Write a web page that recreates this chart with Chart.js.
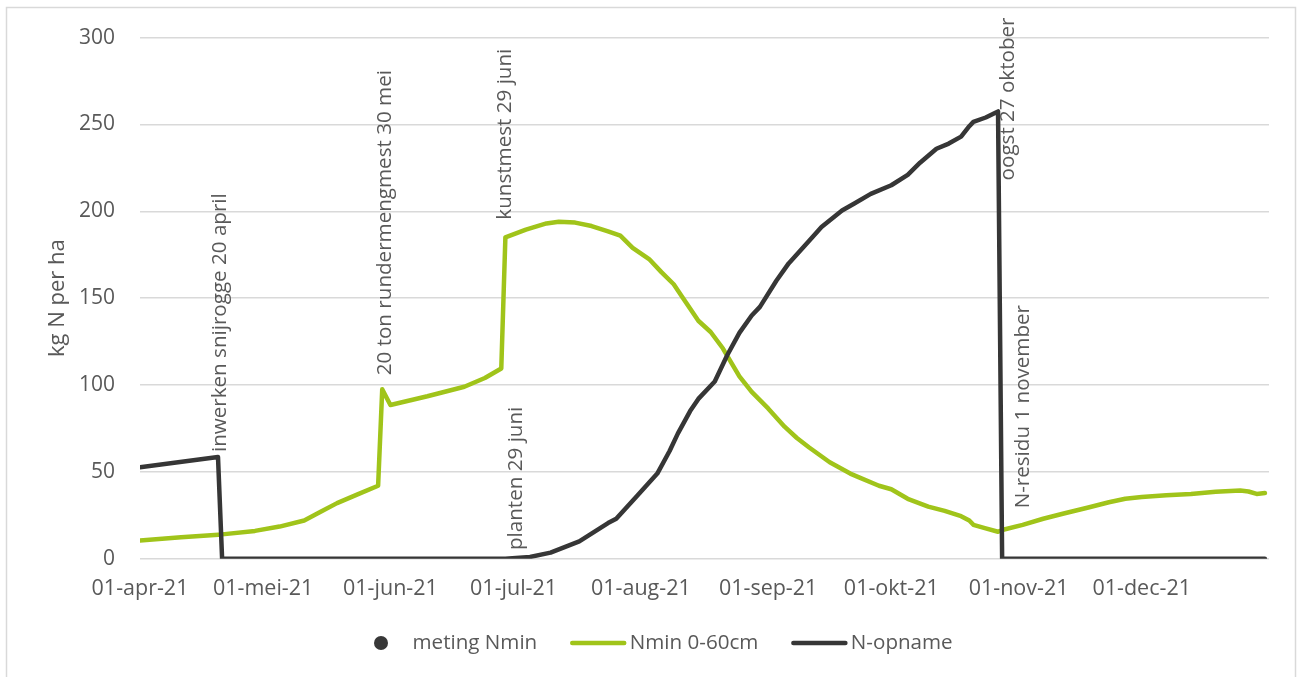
<!DOCTYPE html>
<html>
<head>
<meta charset="utf-8">
<title>Stikstofverloop 2021</title>
<script src="https://cdn.jsdelivr.net/npm/chart.js@4.4.1/dist/chart.umd.min.js"></script>
<style>
  html, body { margin: 0; padding: 0; background: #ffffff; }
  #wrap { width: 1298px; height: 677px; position: relative; }
</style>
</head>
<body>
<div id="wrap"><canvas id="chart" width="1298" height="677"></canvas></div>
<script>
// Days are counted from 1 April 2021 (day 0).
const monthTickDays   = [0, 30, 61, 91, 122, 153, 183, 214, 244];
const monthTickLabels = ['01-apr-21', '01-mei-21', '01-jun-21', '01-jul-21', '01-aug-21',
                         '01-sep-21', '01-okt-21', '01-nov-21', '01-dec-21'];

// Minerale stikstof in de laag 0-60 cm (kg N/ha)
const nminDays   = [0, 10, 20, 28, 34, 40, 44, 48, 53, 58, 59, 61, 70, 79, 84, 88,
                    89, 94, 99, 102, 106, 110, 114, 117, 120, 124, 127, 130, 132, 136, 139, 142,
                    146, 149, 153, 157, 160, 163, 168, 173, 175, 180, 183, 187, 192, 196, 200, 202,
                    203, 206, 209, 210, 215, 220, 225, 231, 236, 240, 244, 250, 256, 262, 268, 270,
                    272, 274];
const nminValues = [10.5, 12.3, 14, 16, 18.5, 22, 27, 32, 37, 42, 97.5, 88.5, 93.5, 99, 104, 109.5,
                    185, 189.5, 193, 194, 193.5, 191.5, 188.5, 186, 179, 172.5, 165, 158, 151, 137, 130.5, 121,
                    105, 96, 86.5, 76, 69.5, 64, 55.5, 49, 47, 42, 40, 34.5, 30, 27.5, 24.5, 22,
                    19.5, 17.5, 15.5, 16.5, 19.5, 23, 26, 29.5, 32.5, 34.5, 35.5, 36.5, 37.2, 38.5, 39.2, 38.7,
                    37.3, 37.8];

// Stikstofopname door het gewas (kg N/ha)
const uptakeDays   = [0, 19, 20, 89, 95, 100, 107, 114, 116, 121, 126, 129, 131, 134, 136, 140,
                      143, 146, 149, 151, 155, 158, 163, 166, 171, 174, 178, 183, 187, 190, 194, 197,
                      200, 202, 203, 206, 209, 210, 274];
const uptakeValues = [52.6, 58.5, 0, 0, 1, 3.5, 10, 20.5, 23, 36, 49, 62, 72, 85, 92, 102,
                      117, 130, 140, 145, 160, 170, 183, 191, 200.5, 204.5, 210, 215, 221, 228, 236, 239,
                      243, 249, 251.5, 254, 257.5, 0, 0];

// Bemonsteringen Nmin (geen metingen in deze periode)
const measuredDays   = [];
const measuredValues = [];

// Teeltmaatregelen langs de tijdas
const eventTexts  = ['inwerken snijrogge 20 april', '20 ton rundermengmest 30 mei', 'kunstmest 29 juni',
                     'planten 29 juni', 'oogst 27 oktober', 'N-residu 1 november'];
const eventDays   = [19.5, 59.6, 88.9, 91.5, 211.5, 215];
const eventLevels = [61.4, 105.6, 195.2, 5, 217.8, 29];

const GREEN = '#a0c41a';
const DARK = '#363636';
const TEXT = '#595959';
const GRID = '#d9d9d9';

const toPoints = (xs, ys) => xs.map((x, i) => ({ x: x, y: ys[i] }));

// outer frame around the chart
const framePlugin = {
  id: 'frame',
  beforeDraw(chart) {
    const c = chart.ctx;
    c.save();
    c.fillStyle = '#ffffff';
    c.fillRect(0, 0, chart.width, chart.height);
    c.strokeStyle = GRID;
    c.lineWidth = 1.5;
    c.strokeRect(6.5, 7.5, 1289, 690);
    c.restore();
  }
};

// vertical event texts anchored at a day and a level on the value axis
const eventPlugin = {
  id: 'events',
  afterDatasetsDraw(chart) {
    const c = chart.ctx;
    const xs = chart.scales.x, ys = chart.scales.y;
    c.save();
    c.fillStyle = TEXT;
    c.font = '20.6px "Open Sans"';
    c.textAlign = 'left';
    c.textBaseline = 'middle';
    eventTexts.forEach((t, i) => {
      c.save();
      c.translate(xs.getPixelForValue(eventDays[i]), ys.getPixelForValue(eventLevels[i]));
      c.rotate(-Math.PI / 2);
      c.fillText(t, 0, 0);
      c.restore();
    });
    c.restore();
  }
};

// legend row below the axis
const legendPlugin = {
  id: 'legendRow',
  afterDraw(chart) {
    const c = chart.ctx;
    const y = 643;
    const box = 56, gap = 3.5, spacing = 33;
    let x = 353;
    c.save();
    c.font = '20.6px "Open Sans"';
    c.textBaseline = 'middle';
    c.textAlign = 'left';
    chart.data.datasets.forEach(ds => {
      if (ds.type === 'scatter') {
        c.fillStyle = ds.backgroundColor;
        c.beginPath();
        c.arc(x + box / 2, y, 7, 0, Math.PI * 2);
        c.fill();
      } else {
        c.strokeStyle = ds.borderColor;
        c.lineWidth = ds.borderWidth;
        c.lineCap = 'round';
        c.beginPath();
        c.moveTo(x + 2, y);
        c.lineTo(x + box - 2, y);
        c.stroke();
      }
      const tx = x + box + gap;
      c.fillStyle = TEXT;
      c.fillText(ds.label, tx, y);
      x = tx + c.measureText(ds.label).width + spacing;
    });
    c.restore();
  }
};

const PAD_LEFT = 41;

new Chart(document.getElementById('chart'), {
  type: 'line',
  data: {
    datasets: [
      {
        label: 'meting Nmin',
        type: 'scatter',
        data: toPoints(measuredDays, measuredValues),
        backgroundColor: '#383838',
        borderColor: '#383838',
        pointRadius: 7,
        order: 0
      },
      {
        label: 'Nmin 0-60cm',
        data: toPoints(nminDays, nminValues),
        borderColor: GREEN,
        backgroundColor: GREEN,
        borderWidth: 4.5,
        pointRadius: 0,
        fill: false,
        tension: 0,
        borderJoinStyle: 'round',
        borderCapStyle: 'round',
        order: 2
      },
      {
        label: 'N-opname',
        data: toPoints(uptakeDays, uptakeValues),
        borderColor: DARK,
        backgroundColor: DARK,
        borderWidth: 4.5,
        pointRadius: 0,
        fill: false,
        tension: 0,
        borderJoinStyle: 'round',
        borderCapStyle: 'round',
        order: 1
      }
    ]
  },
  options: {
    responsive: false,
    animation: false,
    events: [],
    layout: { padding: { left: PAD_LEFT, right: 29, top: 37, bottom: 0 } },
    scales: {
      x: {
        type: 'linear',
        min: 0,
        max: 275,
        afterBuildTicks(scale) {
          scale.ticks = monthTickDays.map(v => ({ value: v }));
        },
        afterFit(scale) { scale.height = 677 - 558.7; },
        ticks: {
          autoSkip: false,
          maxRotation: 0,
          padding: 17,
          color: TEXT,
          font: { family: 'Open Sans', size: 21.5 },
          callback: (v, i) => monthTickLabels[i]
        },
        grid: { display: false, drawTicks: false },
        border: { display: false }
      },
      y: {
        min: 0,
        max: 300,
        afterFit(scale) { scale.width = 140 - PAD_LEFT; },
        ticks: {
          stepSize: 50,
          padding: 25,
          color: TEXT,
          font: { family: 'Open Sans', size: 21 }
        },
        grid: { color: GRID, lineWidth: 1.5, drawTicks: false },
        border: { display: false },
        title: {
          display: true,
          text: 'kg N per ha',
          color: TEXT,
          font: { family: 'Open Sans', size: 22 },
          padding: { top: 4, bottom: 4 }
        }
      }
    },
    plugins: {
      legend: { display: false },
      tooltip: { enabled: false }
    }
  },
  plugins: [framePlugin, eventPlugin, legendPlugin]
});
</script>
</body>
</html>
